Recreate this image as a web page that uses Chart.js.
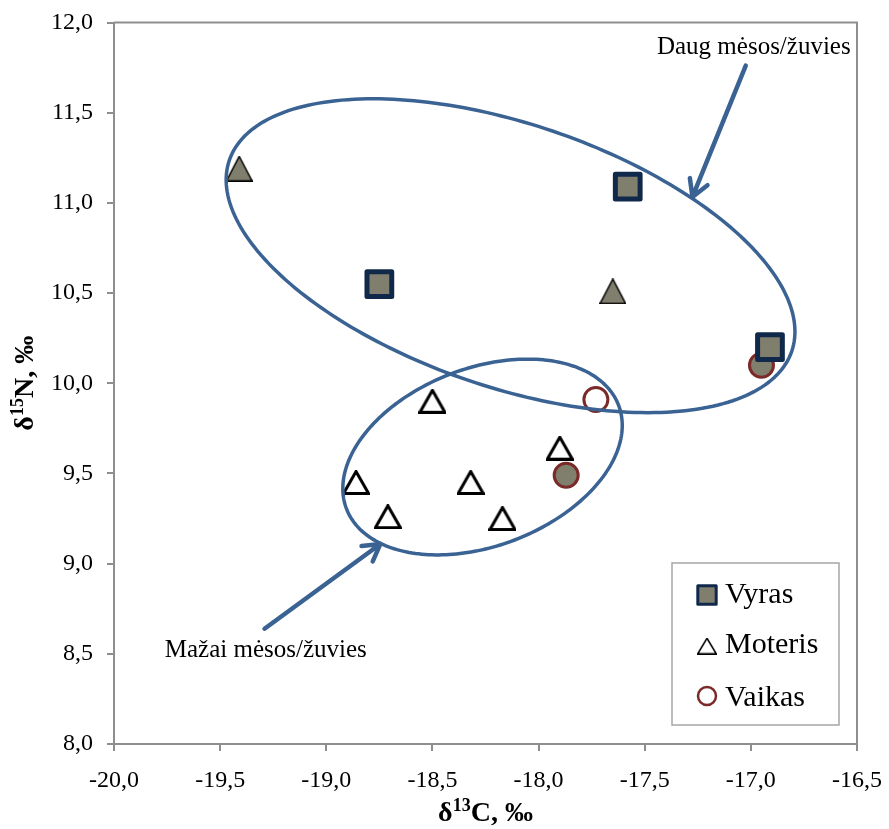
<!DOCTYPE html>
<html lang="lt">
<head>
<meta charset="UTF-8">
<title>δ13C ir δ15N</title>
<script src="https://cdn.jsdelivr.net/npm/chart.js@4"></script>
<style>
  body { margin: 0; background: #fff; }
  #wrap { width: 889px; height: 829px; }
</style>
</head>
<body>
<div id="wrap"><canvas id="isoChart" width="889" height="829"></canvas></div>
<script>
// δ13C (x) ir δ15N (y), ‰
const vyrasC = [-18.75, -17.58, -16.91];
const vyrasN = [10.55, 11.09, 10.20];

const moterisC = [-18.50, -18.86, -18.71, -18.32, -18.17, -17.90];
const moterisN = [9.90, 9.45, 9.26, 9.45, 9.25, 9.64];
// moterys, pažymėtos užpildytu ženklu
const moterisPilkC = [-19.41, -17.65];
const moterisPilkN = [11.19, 10.51];

const vaikasC = [-17.73];
const vaikasN = [9.91];
const vaikasPilkC = [-17.87, -16.95];
const vaikasPilkN = [9.49, 10.10];

const seriesNames = ['Vyras', 'Moteris', 'Vaikas'];
const xTicks = [-20, -19.5, -19, -18.5, -18, -17.5, -17, -16.5];
const yTicks = [8, 8.5, 9, 9.5, 10, 10.5, 11, 11.5, 12];

// grupių elipsės (centras ir du sujungtiniai pusašiai, ‰ vienetais)
const zones = [
  { c: [-18.132, 10.707], u: [1.3245, -0.530], v: [-0.201, -0.690] },
  { c: [-18.264, 9.591], u: [0.6406, 0.288], v: [0.151, -0.460] }
];
const arrows = [
  { from: [-17.024, 11.761], to: [-17.275, 11.033] },
  { from: [-19.291, 8.639], to: [-18.745, 9.109] }
];
const notes = [
  { text: 'Daug mėsos/žuvies', at: [-16.986, 11.825] },
  { text: 'Mažai mėsos/žuvies', at: [-19.285, 8.482] }
];

const OLIVE = '#807e6c';
const NAVY = '#10294b';
const WINE = '#7b2a2a';
const BLUE = '#3a6394';
const AXIS = '#8e8e8e';
const SERIF = "'Liberation Serif', 'Times New Roman', serif";

const pts = (xs, ys) => xs.map((x, i) => ({ x: x, y: ys[i] }));
const fmt = v => v.toFixed(1).replace('.', ',');

// trikampis ženklas, centruotas pagal savo rėmelį
function triangleMark(w, h, fill, stroke, lw) {
  const c = document.createElement('canvas');
  c.width = Math.ceil(w + lw);
  c.height = Math.ceil(h + lw);
  const g = c.getContext('2d');
  const o = lw / 2;
  g.beginPath();
  g.moveTo(c.width / 2, o);
  g.lineTo(c.width - o, c.height - o);
  g.lineTo(o, c.height - o);
  g.closePath();
  g.fillStyle = fill;
  g.fill();
  g.lineJoin = 'miter';
  g.strokeStyle = stroke;
  g.lineWidth = lw;
  g.stroke();
  return c;
}

function drawSupText(ctx, parts, size) {
  // parts: [tekstas, ar viršutinis indeksas]
  const supSize = Math.round(size * 0.66);
  const fontFor = sup => 'bold ' + (sup ? supSize : size) + 'px ' + SERIF;
  let total = 0;
  parts.forEach(p => { ctx.font = fontFor(p[1]); total += ctx.measureText(p[0]).width; });
  let x = -total / 2;
  ctx.textAlign = 'left';
  ctx.textBaseline = 'alphabetic';
  parts.forEach(p => {
    ctx.font = fontFor(p[1]);
    ctx.fillText(p[0], x, p[1] ? -size * 0.36 : 0);
    x += ctx.measureText(p[0]).width;
  });
}

const decorPlugin = {
  id: 'decor',
  beforeDatasetsDraw(chart) {
    const { ctx, chartArea: a } = chart;
    ctx.save();
    ctx.strokeStyle = AXIS;
    ctx.lineWidth = 2;
    ctx.beginPath();
    ctx.moveTo(a.left, a.top);
    ctx.lineTo(a.right, a.top);
    ctx.lineTo(a.right, a.bottom);
    ctx.stroke();
    ctx.lineJoin = 'round';
  },
  afterDatasetsDraw(chart) {
    const { ctx, scales: { x: sx, y: sy } } = chart;
    ctx.restore();
    const px = p => [sx.getPixelForValue(p[0]), sy.getPixelForValue(p[1])];

    ctx.save();
    ctx.strokeStyle = BLUE;
    ctx.lineWidth = 3.5;
    zones.forEach(z => {
      ctx.beginPath();
      for (let i = 0; i <= 240; i++) {
        const t = i / 240 * Math.PI * 2;
        const q = px([z.c[0] + z.u[0] * Math.cos(t) + z.v[0] * Math.sin(t),
                      z.c[1] + z.u[1] * Math.cos(t) + z.v[1] * Math.sin(t)]);
        if (i === 0) ctx.moveTo(q[0], q[1]); else ctx.lineTo(q[0], q[1]);
      }
      ctx.closePath();
      ctx.stroke();
    });

    ctx.lineWidth = 4.5;
    ctx.lineCap = 'round';
    ctx.lineJoin = 'round';
    arrows.forEach(ar => {
      const s = px(ar.from), e = px(ar.to);
      const ang = Math.atan2(e[1] - s[1], e[0] - s[0]);
      ctx.beginPath();
      ctx.moveTo(s[0], s[1]);
      ctx.lineTo(e[0], e[1]);
      [-1, 1].forEach(k => {
        const b = ang + Math.PI + k * Math.PI / 6;
        ctx.moveTo(e[0] + Math.cos(b) * 19, e[1] + Math.sin(b) * 19);
        ctx.lineTo(e[0], e[1]);
      });
      ctx.stroke();
    });

    ctx.fillStyle = '#000';
    ctx.font = '25px ' + SERIF;
    ctx.textAlign = 'center';
    ctx.textBaseline = 'alphabetic';
    notes.forEach(n => {
      const q = px(n.at);
      ctx.fillText(n.text, q[0], q[1]);
    });
    ctx.restore();
  },
  afterDraw(chart) {
    const { ctx, chartArea: a } = chart;
    ctx.save();

    // legenda
    const box = { x: 672, y: 563, w: 167, h: 162 };
    ctx.fillStyle = '#fff';
    ctx.fillRect(box.x, box.y, box.w, box.h);
    ctx.strokeStyle = '#a6a6a6';
    ctx.lineWidth = 1.5;
    ctx.strokeRect(box.x, box.y, box.w, box.h);

    const legendMarks = [
      { pointStyle: 'rect', radius: 13, borderWidth: 3, fill: OLIVE, stroke: NAVY },
      { pointStyle: triangleMark(18, 15, '#fff', '#000', 1.5), radius: 10, borderWidth: 0 },
      { pointStyle: 'circle', radius: 9, borderWidth: 2.5, fill: '#fff', stroke: WINE }
    ];
    const rowY = [595, 646, 696];
    const baseY = [603, 653, 706];
    ctx.lineJoin = 'round';
    legendMarks.forEach((m, i) => {
      ctx.fillStyle = m.fill || '#fff';
      ctx.strokeStyle = m.stroke || '#000';
      ctx.lineWidth = m.borderWidth;
      Chart.helpers.drawPoint(ctx, { pointStyle: m.pointStyle, radius: m.radius, rotation: 0, borderWidth: m.borderWidth }, 707, rowY[i]);
      ctx.fillStyle = '#000';
      ctx.font = '30px ' + SERIF;
      ctx.textAlign = 'left';
      ctx.textBaseline = 'alphabetic';
      ctx.fillText(seriesNames[i], 725, baseY[i]);
    });

    // ašių pavadinimai
    ctx.fillStyle = '#000';
    ctx.save();
    ctx.translate((a.left + a.right) / 2, 821);
    drawSupText(ctx, [['δ', false], ['13', true], ['C, ‰', false]], 28);
    ctx.restore();
    ctx.save();
    ctx.translate(33, (a.top + a.bottom) / 2);
    ctx.rotate(-Math.PI / 2);
    drawSupText(ctx, [['δ', false], ['15', true], ['N, ‰', false]], 28);
    ctx.restore();

    ctx.restore();
  }
};

const tickFont = { family: SERIF, size: 24 };
const hollowTri = triangleMark(25, 22, '#fff', '#000', 3);
const olivTri = triangleMark(25, 24, OLIVE, '#000', 1.5);

new Chart(document.getElementById('isoChart'), {
  type: 'scatter',
  data: {
    datasets: [
      { label: seriesNames[0], data: pts(vyrasC, vyrasN), pointStyle: 'rect', pointRadius: 17.5,
        backgroundColor: OLIVE, borderColor: NAVY, borderWidth: 5 },
      { label: seriesNames[1], data: pts(moterisC, moterisN), pointStyle: hollowTri, pointRadius: 14,
        backgroundColor: '#fff', borderColor: '#000', borderWidth: 3 },
      { label: seriesNames[1], data: pts(moterisPilkC, moterisPilkN), pointStyle: olivTri, pointRadius: 14,
        backgroundColor: OLIVE, borderColor: '#000', borderWidth: 1.5 },
      { label: seriesNames[2], data: pts(vaikasC, vaikasN), pointStyle: 'circle', pointRadius: 12,
        backgroundColor: '#fff', borderColor: WINE, borderWidth: 3 },
      { label: seriesNames[2], data: pts(vaikasPilkC, vaikasPilkN), pointStyle: 'circle', pointRadius: 12,
        backgroundColor: OLIVE, borderColor: WINE, borderWidth: 3 }
    ]
  },
  options: {
    responsive: false,
    animation: false,
    events: [],
    layout: { padding: { top: 20, right: 32, left: 0, bottom: 0 } },
    plugins: { legend: { display: false }, tooltip: { enabled: false } },
    scales: {
      x: {
        type: 'linear', min: -20, max: -16.5,
        afterBuildTicks: s => { s.ticks = xTicks.map(v => ({ value: v })); },
        afterFit: s => { s.height = 85; s.paddingLeft = 0; s.paddingRight = 0; },
        ticks: { font: tickFont, color: '#000', padding: 15, maxRotation: 0, autoSkip: false, callback: fmt },
        grid: { drawOnChartArea: false, drawTicks: true, tickLength: 7, color: AXIS, lineWidth: 2 },
        border: { color: AXIS, width: 2 }
      },
      y: {
        type: 'linear', min: 8, max: 12,
        afterBuildTicks: s => { s.ticks = yTicks.map(v => ({ value: v })); },
        afterFit: s => { s.width = 114; s.paddingTop = 0; s.paddingBottom = 0; },
        ticks: { font: tickFont, color: '#000', padding: 14, autoSkip: false, callback: fmt },
        grid: { drawOnChartArea: false, drawTicks: true, tickLength: 7, color: AXIS, lineWidth: 2 },
        border: { color: AXIS, width: 2 }
      }
    }
  },
  plugins: [decorPlugin]
});
</script>
</body>
</html>
